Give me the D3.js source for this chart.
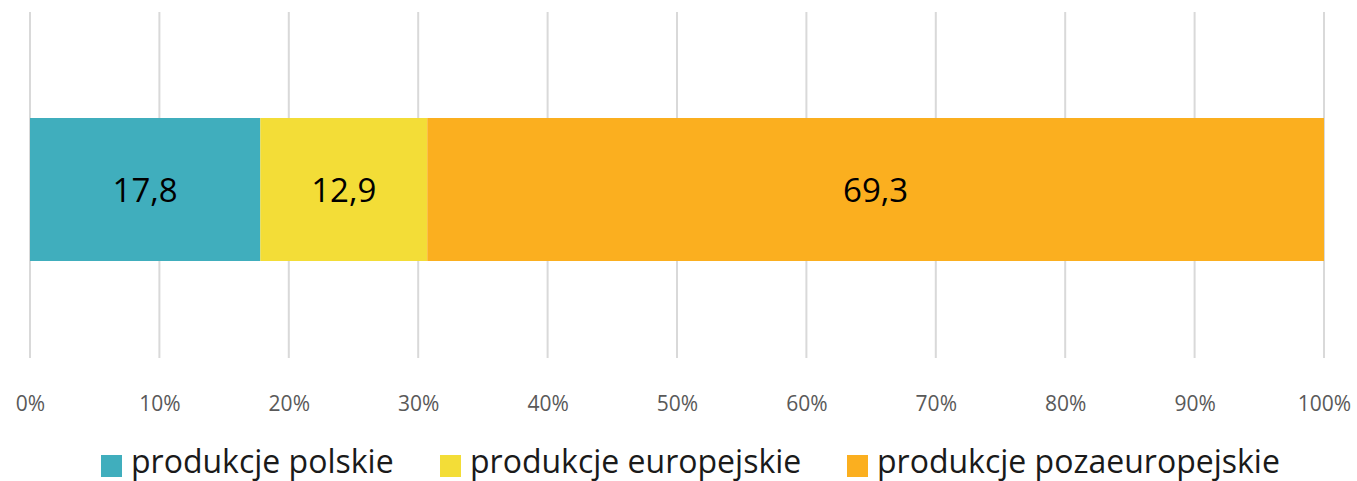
<!DOCTYPE html>
<html><head><meta charset="utf-8">
<script src="https://cdn.jsdelivr.net/npm/d3@7"></script>
<style>body{margin:0;background:#fff}svg{display:block}</style>
</head><body><svg id="c" width="1357" height="481"></svg>
<script>
const categories = ["produkcje polskie", "produkcje europejskie", "produkcje pozaeuropejskie"];
const values = [17.8, 12.9, 69.3];
const colors = ["#40AEBD", "#F3DD37", "#FBAF1F"];
const tickValues = [0,10,20,30,40,50,60,70,80,90,100];
const tickLabels = tickValues.map(d => d + "%");

const svg = d3.select("#c");
const font = "'Open Sans', sans-serif";
const x = d3.scaleLinear().domain([0,100]).range([30,1324]);

// gridlines
svg.append("g").selectAll("line").data(tickValues).join("line")
  .attr("x1", d => x(d)).attr("x2", d => x(d))
  .attr("y1", 12).attr("y2", 358)
  .attr("stroke", "#d9d9d9").attr("stroke-width", 2);

// stacked bars
let acc = 0;
const segs = values.map((v,i) => { const s = {start: acc, end: acc+v, v, i}; acc += v; return s; });
const by = 118, bh = 143;
svg.append("g").selectAll("rect").data(segs).join("rect")
  .attr("x", d => x(d.start)).attr("width", d => x(d.end)-x(d.start))
  .attr("y", by).attr("height", bh)
  .attr("fill", d => colors[d.i]);
svg.append("g").selectAll("text").data(segs).join("text")
  .attr("x", d => (x(d.start)+x(d.end))/2).attr("y", by + bh/2)
  .attr("text-anchor","middle").attr("dominant-baseline","central")
  .attr("font-family", font).attr("font-size", 33).attr("fill","#000")
  .text(d => d.v.toFixed(1).replace(".", ","));

// axis
const axis = d3.axisBottom(x).tickValues(tickValues).tickFormat((d,i) => tickLabels[i]).tickSize(0).tickPadding(0);
const ax = svg.append("g").attr("transform","translate(0,396)").call(axis);
ax.select(".domain").remove();
ax.selectAll("text").attr("font-family", font).attr("font-size", 21).attr("fill","#595959").attr("dy","0.71em");

// legend
const legX = [101, 440, 847];
const lg = svg.append("g").selectAll("g").data(categories).join("g")
  .attr("transform", (d,i) => `translate(${legX[i]},455)`);
lg.append("rect").attr("width",21).attr("height",22).attr("fill",(d,i)=>colors[i]);
lg.append("text").attr("x",30).attr("y",18)
  .attr("font-family", font).attr("font-size", 32).attr("fill","#1a1a1a").text(d=>d);
</script></body></html>
